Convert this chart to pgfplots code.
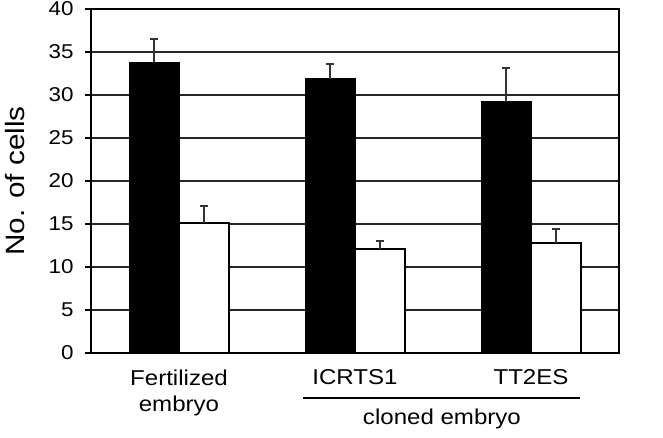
\documentclass[border=0pt]{standalone}
\usepackage{fontspec}
\setmainfont[FakeStretch=1.12]{Liberation Sans}
\usepackage{pgfplots}
\usepackage{pgfplotstable}
\pgfplotsset{compat=1.18}
\pgfplotstableread{
x  y     err
0  33.8  2.7
1  31.9  1.7
2  29.2  3.9
}\blackdata
\pgfplotstableread{
x  y     err
0  15.1  2.0
1  12.1  0.9
2  12.8  1.6
}\whitedata
\begin{document}
\begin{tikzpicture}
\path[use as bounding box] (0,0) rectangle (663pt,438pt);
\begin{axis}[
  at={(91pt,85pt)}, anchor=south west,
  scale only axis, width=528pt, height=344pt,
  xmin=-0.5, xmax=2.5, ymin=0, ymax=40,
  ytick={0,5,...,40},
  xtick={0,1,2},
  xticklabels={{Fertilized\\embryo},{ICRTS1},{TT2ES}},
  xticklabel style={align=center, font=\fontsize{21.5}{26}\selectfont, yshift=-7pt},
  yticklabel style={font=\fontsize{20}{22}\selectfont, xshift=-8pt},
  /pgf/number format/assume math mode=true,
  ylabel={No. of cells},
  ylabel style={font=\fontsize{26.5}{30}\selectfont, at={(axis description cs:0,0.5)}, anchor=center, yshift=76pt},
  ymajorgrids,
  grid style={black!85, line width=1.5pt},
  axis line style={line width=2pt},
  tick align=outside, ytick pos=left, major tick length=6pt,
  ytick style={line width=1.5pt, black},
  xtick style={draw=none},
  ybar=0pt, bar width=50pt,
  clip=false,
]
\addplot[fill=black, draw=black, line width=1pt,
  error bars/.cd, y dir=plus, y explicit,
  error bar style={line width=1.3pt, black!80},
  error mark options={rotate=90, mark size=4pt, line width=1.8pt, black!80}]
  table[x=x, y=y, y error=err] {\blackdata};
\addplot[fill=white, draw=black, line width=1.3pt,
  error bars/.cd, y dir=plus, y explicit,
  error bar style={line width=1.3pt, black!80},
  error mark options={rotate=90, mark size=4pt, line width=1.8pt, black!80}]
  table[x=x, y=y, y error=err] {\whitedata};
\draw[line width=2pt] (axis cs:0.705,-5.23) -- (axis cs:2.278,-5.23);
\node[anchor=base, font=\fontsize{21.5}{26}\selectfont] at (axis cs:1.494,-8.26) {cloned embryo};
\end{axis}
\end{tikzpicture}
\end{document}
